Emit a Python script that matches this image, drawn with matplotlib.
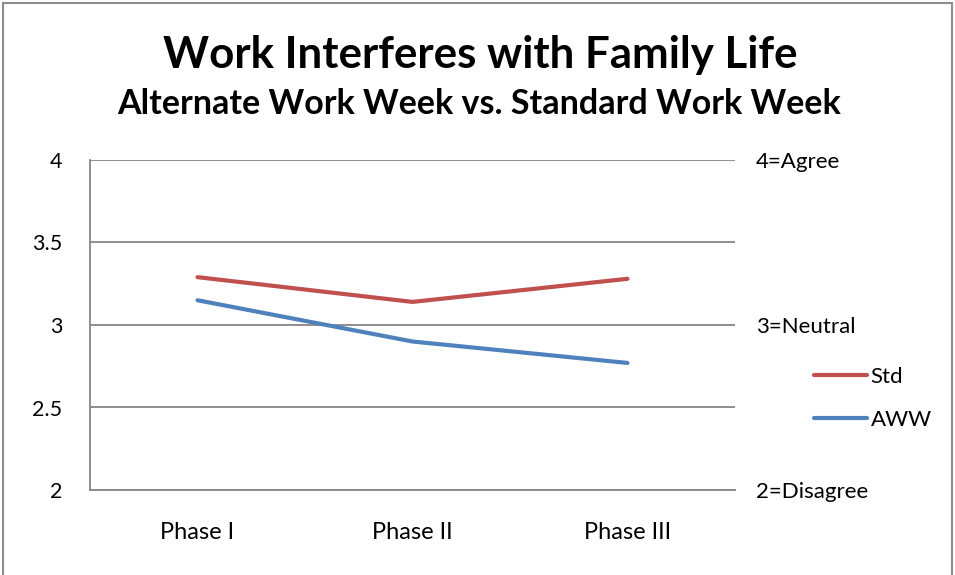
import matplotlib.pyplot as plt
from matplotlib.patches import Rectangle

plt.rcParams['font.family'] = ['Lato', 'DejaVu Sans']

phases = ["Phase I", "Phase II", "Phase III"]
std = [3.29, 3.14, 3.28]
aww = [3.15, 2.90, 2.77]
scale_ticks = [2, 3, 4]
scale_labels = ["2=Disagree", "3=Neutral", "4=Agree"]

grid_c = "#868686"

fig = plt.figure(figsize=(9.55, 5.75), dpi=100)
ax = fig.add_axes([90 / 955, 1 - 490 / 575, 645 / 955, 330 / 575])

x = range(len(phases))
ax.plot(x, std, color="#C0504D", lw=3, solid_capstyle="round", label="Std")
ax.plot(x, aww, color="#4F81BD", lw=3, solid_capstyle="round", label="AWW")

ax.set_xlim(-0.5, 2.5)
ax.set_ylim(2, 4)
ax.set_yticks([2, 2.5, 3, 3.5, 4])
ax.set_yticklabels(["2", "2.5", "3", "3.5", "4"])
ax.set_xticks(list(x))
ax.set_xticklabels(phases)
ax.tick_params(axis="y", length=0, labelsize=15.5, pad=20)
ax.tick_params(axis="x", length=0, labelsize=17, pad=23)
ax.grid(axis="y", color=grid_c, lw=1.3)
ax.set_axisbelow(True)
for side in ["top", "right"]:
    ax.spines[side].set_visible(False)
for side in ["left", "bottom"]:
    ax.spines[side].set_color(grid_c)
    ax.spines[side].set_linewidth(1.3)

# right-hand scale labels
ax2 = ax.twinx()
ax2.set_ylim(2, 4)
ax2.set_yticks(scale_ticks)
ax2.set_yticklabels(scale_labels)
ax2.tick_params(axis="y", length=0, pad=15, labelsize=16)
for s in ax2.spines.values():
    s.set_visible(False)

fig.legend(loc="upper left", bbox_to_anchor=(805 / 955, 1 - 358 / 575),
           frameon=False, fontsize=16, handlelength=2.4, handletextpad=0.15,
           labelspacing=1.05, borderaxespad=0)

fig.text(480 / 955, 1 - 55 / 575, "Work Interferes with Family Life",
         ha="center", va="center", fontsize=31.6, fontweight="bold")
fig.text(479 / 955, 1 - 104 / 575, "Alternate Work Week vs. Standard Work Week",
         ha="center", va="center", fontsize=24.5, fontweight="bold")

fig.patches.append(Rectangle((0.003, -0.01), 0.994, 1.004, transform=fig.transFigure,
                             fill=False, edgecolor="#8c8c8c", lw=1.5))

fig.savefig("out.png", dpi=100)
